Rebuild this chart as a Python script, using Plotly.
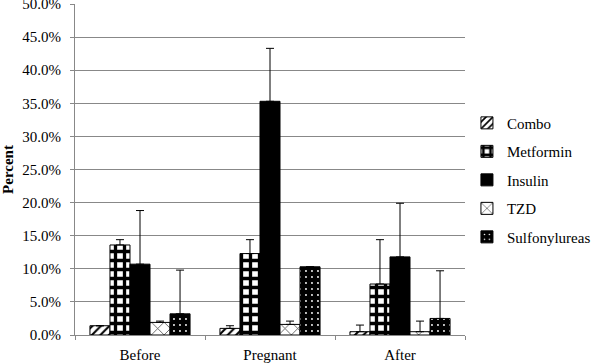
import plotly.graph_objects as go

categories = ["Before", "Pregnant", "After"]
series = ["Combo", "Metformin", "Insulin", "TZD", "Sulfonylureas"]

combo = [1.4, 1.0, 0.5]
metformin = [13.6, 12.3, 7.7]
insulin = [10.7, 35.3, 11.8]
tzd = [1.9, 1.6, 0.5]
sulfonylureas = [3.2, 10.3, 2.5]

combo_err = [0.0, 0.4, 1.0]
metformin_err = [0.8, 2.1, 6.7]
insulin_err = [8.1, 8.0, 8.1]
tzd_err = [0.2, 0.5, 1.6]
sulfonylureas_err = [6.6, 0.0, 7.2]

values = [combo, metformin, insulin, tzd, sulfonylureas]
errors = [combo_err, metformin_err, insulin_err, tzd_err, sulfonylureas_err]

patterns = [
    dict(shape="/", fgcolor="black", bgcolor="white", size=6, solidity=0.35, fillmode="replace"),
    dict(shape="+", fgcolor="black", bgcolor="white", size=9, solidity=0.6, fillmode="replace"),
    dict(shape="", fgcolor="black", bgcolor="black"),
    dict(shape="x", fgcolor="#333333", bgcolor="white", size=9, solidity=0.15, fillmode="replace"),
    dict(shape=".", fgcolor="white", bgcolor="black", size=6, solidity=0.08, fillmode="replace"),
]
colors = ["white", "white", "black", "white", "black"]

fig = go.Figure()
for i, name in enumerate(series):
    fig.add_trace(go.Bar(
        name=name, x=categories, y=values[i],
        marker=dict(color=colors[i], pattern=patterns[i],
                    line=dict(color="black", width=1)),
        error_y=dict(type="data", array=errors[i], arrayminus=[0, 0, 0],
                     symmetric=False, color="black", thickness=1, width=4),
        legendgroup=name,
    ))

font = "Liberation Serif"
fig.update_layout(
    width=600, height=364,
    margin=dict(l=75, r=128, t=4, b=29),
    paper_bgcolor="white", plot_bgcolor="white",
    barmode="group", bargap=0.23, bargroupgap=0,
    font=dict(family=font, size=15, color="black"),
    showlegend=True,
    legend=dict(x=1.005, y=0.69, xanchor="left", yanchor="top",
                traceorder="grouped", tracegroupgap=6, itemwidth=30,
                font=dict(family=font, size=15),
                bgcolor="rgba(0,0,0,0)"),
    xaxis=dict(showline=True, linecolor="#888888", linewidth=1, automargin=False,
               ticks="outside", tickson="boundaries", ticklen=4, tickcolor="#888888",
               ticklabelstandoff=6,
               showgrid=False, tickfont=dict(family=font, size=15)),
    yaxis=dict(range=[0, 50], dtick=5, tickformat=".1f", ticksuffix="%",
               showline=True, linecolor="#888888", linewidth=1, automargin=False,
               ticks="outside", ticklen=4, tickcolor="#888888",
               showgrid=True, gridcolor="#888888", gridwidth=1,
               zeroline=False, ticklabeloverflow="allow", ticklabelstandoff=6,
               title=dict(text="<b>Percent</b>", font=dict(family=font, size=15), standoff=6),
               tickfont=dict(family=font, size=15)),
)

fig.write_html("out.html", config={"displayModeBar": False},
               post_script="document.body.style.margin='0px';document.body.style.padding='0px';")
